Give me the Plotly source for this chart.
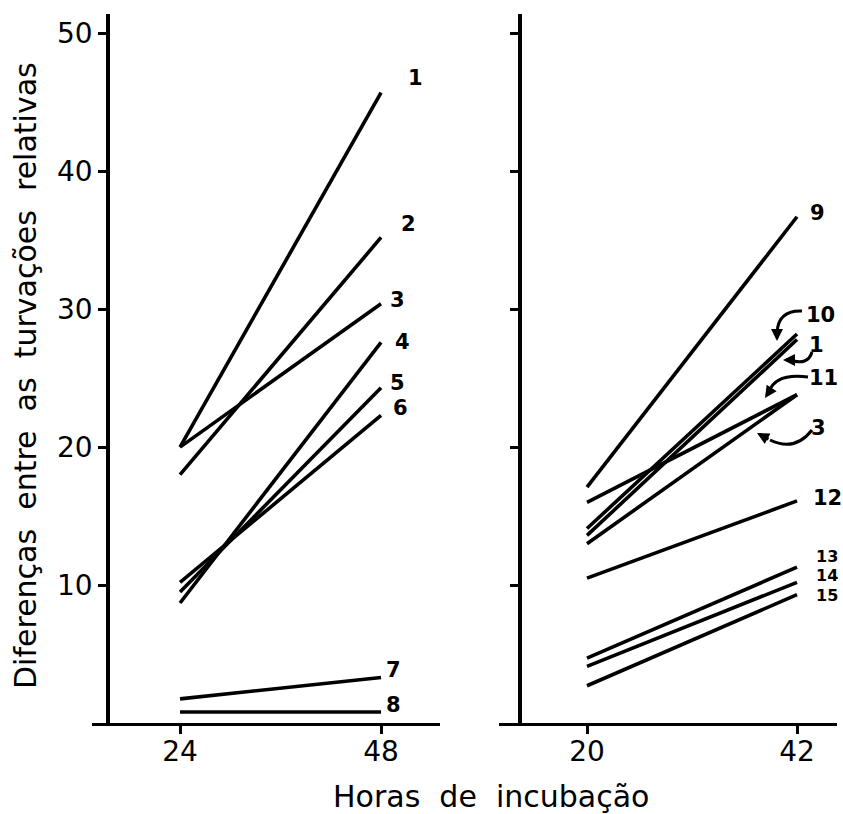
import plotly.graph_objects as go

W, H = 843, 814

# ---------------- data ----------------
left_hours = [24, 48]
left_labels = ["1", "2", "3", "4", "5", "6", "7", "8"]
left_start = [20.0, 18.0, 20.0, 8.7, 9.5, 10.2, 1.75, 0.8]
left_end = [45.7, 35.2, 30.4, 27.6, 24.3, 22.3, 3.3, 0.8]

right_hours = [20, 42]
right_labels = ["9", "10", "1", "11", "3", "12", "13", "14", "15"]
right_start = [17.1, 14.1, 13.6, 16.0, 13.0, 10.5, 4.7, 4.1, 2.7]
right_end = [36.7, 28.2, 27.8, 23.8, 23.8, 16.1, 11.3, 10.2, 9.3]

y_ticks = [10, 20, 30, 40, 50]
y_ticktext = ["10", "20", "30", "40", "50"]
left_xticks = [24, 48]
right_xticks = [20, 42]

# label offsets (pixels) from each line's end point, and label font sizes
left_offsets = [(34, 15), (27, 13), (16, 4), (21, 0), (16, 5), (19, 7), (12, 7), (12, 7)]
right_offsets = [(20, 4), (23, 19), (19, -5), (26, 17), (21, -33), (30, 3), (30, 11), (30, 7), (30, -1)]
right_sizes = [21, 21, 21, 21, 21, 21, 16, 16, 16]

FONT = "DejaVu Sans"
LW = 3.6

fig = go.Figure()

for s, e in zip(left_start, left_end):
    fig.add_trace(go.Scatter(x=left_hours, y=[s, e], mode="lines",
                             line=dict(color="black", width=LW),
                             xaxis="x", yaxis="y", showlegend=False, hoverinfo="skip"))
for s, e in zip(right_start, right_end):
    fig.add_trace(go.Scatter(x=right_hours, y=[s, e], mode="lines",
                             line=dict(color="black", width=LW),
                             xaxis="x2", yaxis="y2", showlegend=False, hoverinfo="skip"))

annotations = []
for lab, e, (dx, dy) in zip(left_labels, left_end, left_offsets):
    annotations.append(dict(x=left_hours[1], y=e, xref="x", yref="y", text="<b>%s</b>" % lab,
                            showarrow=False, xshift=dx, yshift=dy,
                            font=dict(family=FONT, size=21, color="black")))
for lab, e, (dx, dy), fs in zip(right_labels, right_end, right_offsets, right_sizes):
    annotations.append(dict(x=right_hours[1], y=e, xref="x2", yref="y2", text="<b>%s</b>" % lab,
                            showarrow=False, xshift=dx, yshift=dy,
                            font=dict(family=FONT, size=fs, color="black")))

# axis titles
annotations.append(dict(x=491 / W, y=1 - 796 / H, xref="paper", yref="paper",
                        xanchor="center", yanchor="middle",
                        text="Horas\u00a0\u00a0de\u00a0\u00a0incubação", showarrow=False,
                        font=dict(family=FONT, size=30, color="black")))
annotations.append(dict(x=25 / W, y=1 - 376 / H, xref="paper", yref="paper",
                        xanchor="center", yanchor="middle",
                        text="Diferenças\u00a0\u00a0entre\u00a0\u00a0as\u00a0\u00a0turvações\u00a0\u00a0relativas",
                        showarrow=False, textangle=-90,
                        font=dict(family=FONT, size=30, color="black")))


def P(px, py):
    return px / W, 1 - py / H


# curved arrows (right panel labels), in pixel coordinates
curves = [
    ((802, 311), (778, 310), (777, 333), (777, 341)),
    ((812, 352), (808, 366), (790, 360), (783, 360)),
    ((808, 377), (775, 373), (769, 392), (765, 398)),
    ((812, 430), (795, 452), (770, 440), (757, 433)),
]
shapes = []
for (p0, c, p1, tip) in curves:
    x0, y0 = P(*p0)
    cx, cy = P(*c)
    x1, y1 = P(*p1)
    shapes.append(dict(type="path", xref="paper", yref="paper",
                       path="M %f %f Q %f %f %f %f" % (x0, y0, cx, cy, x1, y1),
                       line=dict(color="black", width=3)))
    tx, ty = P(*tip)
    annotations.append(dict(x=tx, y=ty, xref="paper", yref="paper", text="",
                            showarrow=True, arrowhead=2, arrowsize=0.8, arrowwidth=3,
                            arrowcolor="black", ax=p1[0] - tip[0],
                            ay=p1[1] - tip[1], axref="pixel", ayref="pixel"))

axis_common = dict(showgrid=False, zeroline=False, showline=True, linecolor="black",
                   ticks="outside", ticklen=8, tickwidth=2.5, tickcolor="black",
                   tickfont=dict(family=FONT, size=28, color="black"))

ydom = [1 - 723 / H, 1 - 14 / H]
fig.update_layout(
    width=W, height=H, autosize=False,
    margin=dict(l=0, r=0, t=0, b=0),
    paper_bgcolor="white", plot_bgcolor="white",
    showlegend=False,
    xaxis=dict(domain=[92 / W, 440 / W], range=[13.49, 55.04], anchor="y",
               tickvals=left_xticks, linewidth=3, ticklabelstandoff=-7, **axis_common),
    yaxis=dict(domain=ydom, range=[0, 51.4], anchor="free", position=108 / W,
               tickvals=y_ticks, ticktext=y_ticktext, linewidth=3.5, **axis_common),
    xaxis2=dict(domain=[499 / W, 837 / W], range=[10.78, 46.19], anchor="y2",
                tickvals=right_xticks, linewidth=3, ticklabelstandoff=-7, **axis_common),
    yaxis2=dict(domain=ydom, range=[0, 51.4], anchor="free", position=520 / W,
                tickvals=y_ticks, showticklabels=False, linewidth=3.5, **axis_common),
    annotations=annotations,
    shapes=shapes,
)

fig.write_html("out.html", config={"displayModeBar": False},
               post_script="document.body.style.margin='0';document.body.style.overflow='hidden';")
